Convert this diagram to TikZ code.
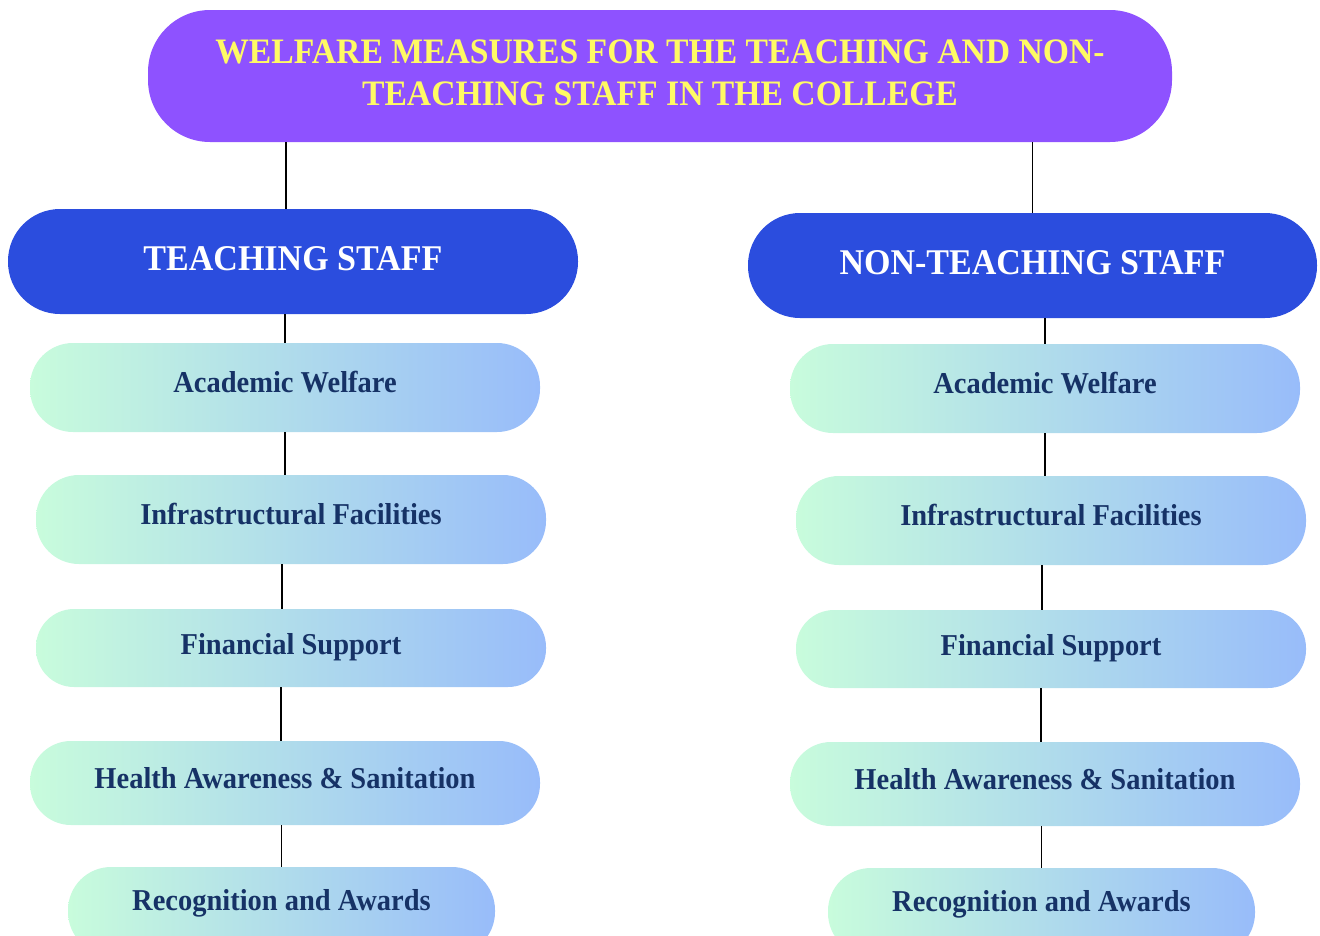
\documentclass[tikz,border=0pt]{standalone}
\usepackage{fontspec}
\setmainfont{Liberation Serif}[FakeStretch=0.94]
\definecolor{titlefill}{RGB}{142,82,255}
\definecolor{titletext}{RGB}{255,250,100}
\definecolor{staffblue}{RGB}{43,77,222}
\definecolor{subtext}{RGB}{22,50,102}
\definecolor{gradleft}{RGB}{200,252,220}
\definecolor{gradright}{RGB}{152,188,250}
\tikzset{
  titlebox/.style={draw=none, fill=titlefill, rounded corners=62pt, minimum width=1024pt, minimum height=132pt,
    text=titletext, font=\bfseries\fontsize{35.8}{42}\selectfont, align=center, inner sep=0pt},
  staffbox/.style={draw=none, fill=staffblue, rounded corners=52pt, minimum width=570pt, minimum height=105pt,
    text=white, font=\bfseries\fontsize{36.2}{42}\selectfont, inner sep=0pt, text height=24pt, text depth=6pt},
  subbox/.style={draw=none, left color=gradleft, right color=gradright, rounded corners=43pt,
    minimum width=510pt, minimum height=89pt, text=subtext, font=\bfseries\fontsize{30.3}{36}\selectfont,
    inner sep=0pt, text height=20pt, text depth=10pt},
  conn/.style={draw=black, line width=1.8pt}
}
\begin{document}
\begin{tikzpicture}[x=1pt,y=-1pt]
\useasboundingbox (0,0) rectangle (1320,935);
\clip (0,0) rectangle (1320,935);
% title
\node[titlebox] (top) at (660,76) {\raisebox{6pt}{\begin{tabular}{@{}c@{}}WELFARE MEASURES FOR THE TEACHING AND NON-\\[0pt]TEACHING STAFF IN THE COLLEGE\end{tabular}}};
% staff boxes
\node[staffbox] (teach) at (293,261.5) {TEACHING STAFF};
\node[staffbox, minimum width=569pt] (nonteach) at (1032.5,265.5) {NON-TEACHING STAFF};
% left column
\node[subbox] (tAW) at (285,387.5) {Academic Welfare};
\node[subbox] (tIF) at (291,519.5) {Infrastructural Facilities};
\node[subbox, minimum height=78pt, rounded corners=38pt, text depth=8pt] (tFS) at (291,648) {Financial Support};
\node[subbox, minimum height=84pt, rounded corners=41pt] (tHA) at (285,783) {Health Awareness \& Sanitation};
\node[subbox, minimum width=427pt, minimum height=88pt, text depth=22pt] (tRA) at (281.5,911) {Recognition and Awards};
% right column
\node[subbox] (nAW) at (1045,388.5) {Academic Welfare};
\node[subbox] (nIF) at (1051,520.5) {Infrastructural Facilities};
\node[subbox, minimum height=78pt, rounded corners=38pt, text depth=8pt] (nFS) at (1051,649) {Financial Support};
\node[subbox, minimum height=84pt, rounded corners=41pt] (nHA) at (1045,784) {Health Awareness \& Sanitation};
\node[subbox, minimum width=427pt, minimum height=88pt, text depth=22pt] (nRA) at (1041.5,912) {Recognition and Awards};
% connectors
\draw[conn] ([xshift=-7pt]teach.north |- top.south) -- ([xshift=-7pt]teach.north);
\draw[conn] (nonteach.north |- top.south) -- (nonteach.north);
\draw[conn] (tAW.north |- teach.south) -- (tAW.north);
\draw[conn] (tAW.south) -- (tAW.south |- tIF.north);
\draw[conn] ([xshift=-9pt]tIF.south) -- ([xshift=-9pt]tIF.south |- tFS.north);
\draw[conn] ([xshift=-4pt]tHA.north |- tFS.south) -- ([xshift=-4pt]tHA.north);
\draw[conn] (tRA.north |- tHA.south) -- (tRA.north);
\draw[conn] (nAW.north |- nonteach.south) -- (nAW.north);
\draw[conn] (nAW.south) -- (nAW.south |- nIF.north);
\draw[conn] ([xshift=-9pt]nIF.south) -- ([xshift=-9pt]nIF.south |- nFS.north);
\draw[conn] ([xshift=-4pt]nHA.north |- nFS.south) -- ([xshift=-4pt]nHA.north);
\draw[conn] (nRA.north |- nHA.south) -- (nRA.north);
\end{tikzpicture}
\end{document}
